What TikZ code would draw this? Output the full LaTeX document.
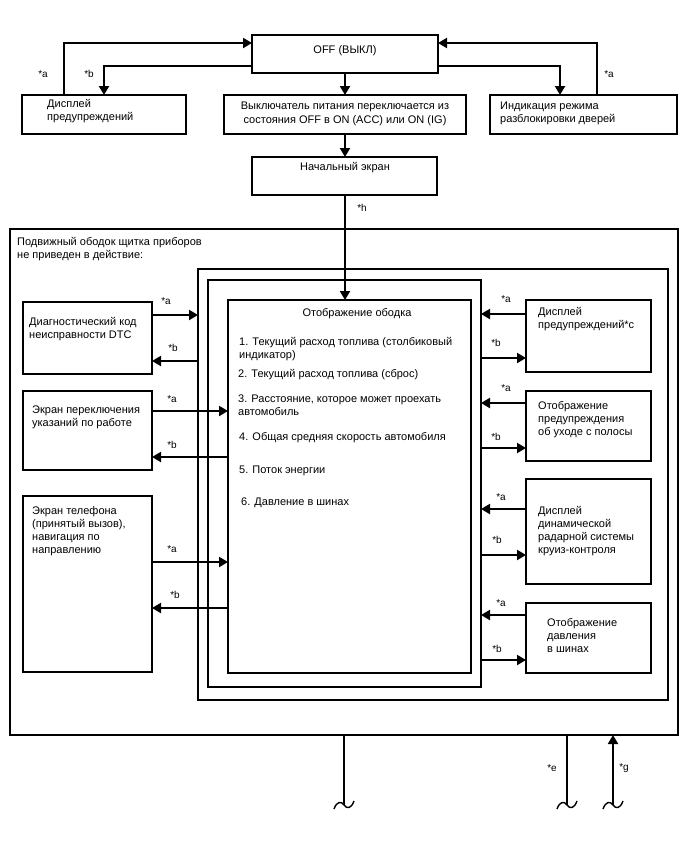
\documentclass[tikz,border=0pt]{standalone}
\usepackage{fontspec}
\setmainfont{Liberation Sans}
\usetikzlibrary{arrows.meta}
\begin{document}
\begin{tikzpicture}[x=1pt,y=-1pt,
  box/.style={draw, line width=1.3pt, anchor=north west, inner sep=0pt, outer sep=0pt},
  txt/.style={anchor=base west, inner sep=0pt, align=left, font=\fontsize{11}{13.3}\selectfont},
  ctxt/.style={anchor=base, inner sep=0pt, align=center, font=\fontsize{11}{14}\selectfont},
  lbl/.style={inner sep=0pt, font=\fontsize{10}{12}\selectfont},
  conn/.style={line width=2pt, -{Triangle[length=9pt,width=10pt]}},
  plainline/.style={line width=2pt},
  tildeline/.style={line width=1.4pt},
]
\useasboundingbox[fill=white] (0,0) rectangle (688,852);

% boxes
\node[box, minimum width=186pt, minimum height=38pt] (off) at (252,35) {};
\node[box, minimum width=164pt, minimum height=39pt] (warn1) at (22,95) {};
\node[box, minimum width=242pt, minimum height=39pt] (sw) at (224,95) {};
\node[box, minimum width=187pt, minimum height=39pt] (unlock) at (490,95) {};
\node[box, minimum width=185pt, minimum height=38pt] (start) at (252,157) {};
\node[box, minimum width=668pt, minimum height=506pt] (outer) at (10,229) {};
\node[box, minimum width=470pt, minimum height=431pt] (frame2) at (198,269) {};
\node[box, minimum width=273pt, minimum height=407pt] (frame3) at (208,280) {};
\node[box, minimum width=243pt, minimum height=373pt] (inner) at (228,300) {};
\node[box, minimum width=129pt, minimum height=72pt] (dtc) at (23,302) {};
\node[box, minimum width=129pt, minimum height=79pt] (sw2) at (23,391) {};
\node[box, minimum width=129pt, minimum height=176pt] (phone) at (23,496) {};
\node[box, minimum width=125pt, minimum height=72pt] (warn2) at (526,300) {};
\node[box, minimum width=125pt, minimum height=70pt] (lane) at (526,391) {};
\node[box, minimum width=125pt, minimum height=105pt] (acc) at (526,479) {};
\node[box, minimum width=125pt, minimum height=70pt] (tire) at (526,603) {};

% texts (base anchor = baseline of the last line)
\node[ctxt] (toff) at (345,53) {OFF (ВЫКЛ)};
\node[txt] (twarn1) at (47,120.3) {Дисплей\\предупреждений};
\node[ctxt] (tsw) at (345,123) {Выключатель питания переключается из\\состояния OFF в ON (ACC) или ON (IG)};
\node[txt] (tunlock) at (500,122.3) {Индикация режима\\разблокировки дверей};
\node[ctxt] (tstart) at (345,170) {Начальный экран};
\node[txt] (touter) at (17,258.3) {Подвижный ободок щитка приборов\\не приведен в действие:};
\node[ctxt] (tinner) at (357,316) {Отображение ободка};
\node[txt] (i1) at (239,358.3) {1. Текущий расход топлива (столбиковый\\индикатор)};
\node[txt] (i2) at (238,377) {2. Текущий расход топлива (сброс)};
\node[txt] (i3) at (238,415.3) {3. Расстояние, которое может проехать\\автомобиль};
\node[txt] (i4) at (239,440) {4. Общая средняя скорость автомобиля};
\node[txt] (i5) at (239,473) {5. Поток энергии};
\node[txt] (i6) at (241,505) {6. Давление в шинах};
\node[txt] (tdtc) at (29,338.3) {Диагностический код\\неисправности DTC};
\node[txt] (tsw2) at (32,426.3) {Экран переключения\\указаний по работе};
\node[txt] (tphone) at (32,553.9) {Экран телефона\\(принятый вызов),\\навигация по\\направлению};
\node[txt] (twarn2) at (538,328.3) {Дисплей\\предупреждений*c};
\node[txt] (tlane) at (538,435.6) {Отображение\\предупреждения\\об уходе с полосы};
\node[txt] (tacc) at (538,553.9) {Дисплей\\динамической\\радарной системы\\круиз-контроля};
\node[txt] (ttire) at (547,652.6) {Отображение\\давления\\в шинах};

% top connectors
\draw[conn] (warn1.north -| 64,0) |- (off.west |- 0,43);
\draw[conn] (off.west |- 0,66) -| (warn1.north -| 104,0);
\draw[conn] (off.south) -- (sw.north);
\draw[conn] (sw.south) -- (sw.south |- start.north);
\draw[conn] (off.east |- 0,66) -| (unlock.north -| 560,0);
\draw[conn] (unlock.north -| 597,0) |- (off.east |- 0,43);
\draw[conn] (sw.south |- start.south) -- (sw.south |- inner.north);

% left connectors
\draw[conn] (dtc.east |- 0,315) -- (frame2.west |- 0,315);
\draw[conn] (frame2.west |- 0,361) -- (dtc.east |- 0,361);
\draw[conn] (sw2.east |- 0,411) -- (inner.west |- 0,411);
\draw[conn] (inner.west |- 0,457) -- (sw2.east |- 0,457);
\draw[conn] (phone.east |- 0,562) -- (inner.west |- 0,562);
\draw[conn] (inner.west |- 0,608) -- (phone.east |- 0,608);

% right connectors
\draw[conn] (warn2.west |- 0,314) -- (frame3.east |- 0,314);
\draw[conn] (frame3.east |- 0,358) -- (warn2.west |- 0,358);
\draw[conn] (lane.west |- 0,403) -- (frame3.east |- 0,403);
\draw[conn] (frame3.east |- 0,448) -- (lane.west |- 0,448);
\draw[conn] (acc.west |- 0,509) -- (frame3.east |- 0,509);
\draw[conn] (frame3.east |- 0,555) -- (acc.west |- 0,555);
\draw[conn] (tire.west |- 0,615) -- (frame3.east |- 0,615);
\draw[conn] (frame3.east |- 0,660) -- (tire.west |- 0,660);

% bottom connectors
\coordinate (e1) at (344,805);
\coordinate (e2) at (567,805);
\coordinate (e3) at (613,805);
\draw[plainline] (outer.south -| e1) -- (e1);
\draw[plainline] (outer.south -| e2) -- (e2);
\draw[conn] (e3) -- (outer.south -| e3);
\draw[tildeline] (334,809) .. controls (337,801) and (341,801) .. (344,805) .. controls (347,809) and (351,809) .. (354,801);
\draw[tildeline] (557,809) .. controls (560,801) and (564,801) .. (567,805) .. controls (570,809) and (574,809) .. (577,801);
\draw[tildeline] (603,809) .. controls (606,801) and (610,801) .. (613,805) .. controls (616,809) and (620,809) .. (623,801);

% labels
\node[lbl] (l1) at (43,74) {*a};
\node[lbl] (l2) at (89,74) {*b};
\node[lbl] (l3) at (609,74) {*a};
\node[lbl] (l4) at (362,208) {*h};
\node[lbl] (l5) at (166,301) {*a};
\node[lbl] (l6) at (173,348) {*b};
\node[lbl] (l7) at (172,399) {*a};
\node[lbl] (l8) at (172,445) {*b};
\node[lbl] (l9) at (172,549) {*a};
\node[lbl] (l10) at (175,595) {*b};
\node[lbl] (l11) at (506,299) {*a};
\node[lbl] (l12) at (496,343) {*b};
\node[lbl] (l13) at (506,388) {*a};
\node[lbl] (l14) at (496,437) {*b};
\node[lbl] (l15) at (501,497) {*a};
\node[lbl] (l16) at (497,540) {*b};
\node[lbl] (l17) at (501,603) {*a};
\node[lbl] (l18) at (497,649) {*b};
\node[lbl] (l19) at (552,768) {*e};
\node[lbl] (l20) at (624,768) {*g};
\end{tikzpicture}
\end{document}
